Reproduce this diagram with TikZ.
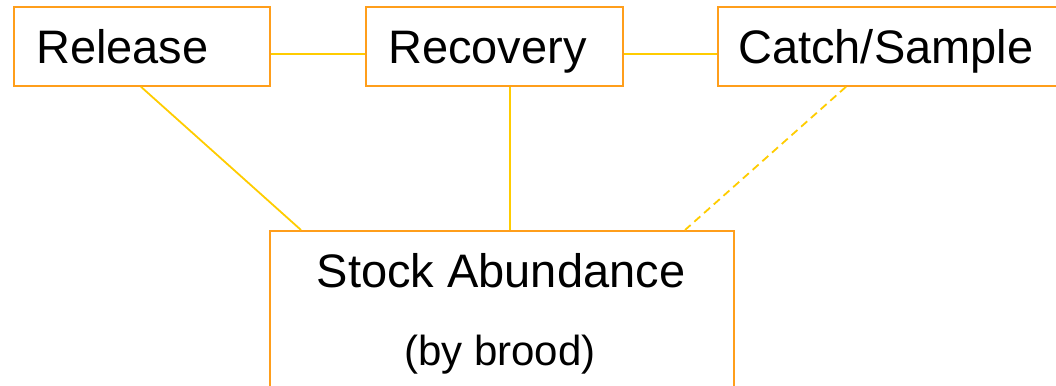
\documentclass[tikz,border=0pt]{standalone}
\usepackage{fontspec}
\setmainfont{Liberation Sans}
\definecolor{boxorange}{HTML}{FF9E1B}
\definecolor{linegold}{HTML}{FFCC00}
\tikzset{
  box/.style={draw=boxorange, line width=1.8pt, fill=none, inner sep=0pt, anchor=north west},
  lbl/.style={inner sep=0pt, font=\fontsize{47}{56}\selectfont, text=black},
  conn/.style={draw=linegold, line width=1.8pt},
  dconn/.style={conn, dash pattern=on 8pt off 5pt}
}
\begin{document}
\begin{tikzpicture}[x=1pt,y=-1pt]
\useasboundingbox (0,0) rectangle (1056,385);
\clip (0,0) rectangle (1056,385);
\node[box, minimum width=256pt, minimum height=79pt] (rel) at (13,6) {};
\node[box, minimum width=257pt, minimum height=79pt] (rec) at (365,6) {};
\node[box, minimum width=360pt, minimum height=79pt] (cat) at (717,6) {};
\node[box, minimum width=464pt, minimum height=180pt] (sa) at (269,230) {};
\node[lbl, anchor=base west] (relt) at (36,64) {Release};
\node[lbl, anchor=base west] (rect) at (388,64) {Recovery};
\node[lbl, anchor=base west] (catt) at (738,64) {Catch/Sample};
\node[lbl, anchor=base] (sat1) at (501,287) {Stock Abundance};
\node[lbl, anchor=base, font=\fontsize{42}{50}\selectfont] (sat2) at (500,365) {(by brood)};
\draw[conn] ([yshift=-7.5pt]rel.east) -- ([yshift=-7.5pt]rec.west);
\draw[conn] ([yshift=-7.5pt]rec.east) -- ([yshift=-7.5pt]cat.west);
\draw[conn] ([xshift=128pt]rel.south west) -- ([xshift=32pt]sa.north west);
\draw[conn] ([xshift=145pt]rec.south west) -- ([xshift=241pt]sa.north west);
\draw[dconn] ([xshift=129pt]cat.south west) -- ([xshift=416pt]sa.north west);
\end{tikzpicture}
\end{document}
